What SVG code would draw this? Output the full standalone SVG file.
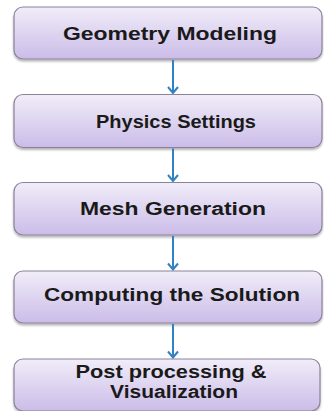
<svg xmlns="http://www.w3.org/2000/svg" width="324" height="411" viewBox="0 0 324 411">
<defs>
<linearGradient id="g" x1="0" y1="0" x2="0" y2="1">
<stop offset="0" stop-color="#f1edf9"/>
<stop offset="1" stop-color="#cbbce8"/>
</linearGradient>
<filter id="sh" x="-5%" y="-10%" width="110%" height="130%">
<feGaussianBlur in="SourceAlpha" stdDeviation="1.2"/>
<feOffset dx="0" dy="1.5"/>
<feComponentTransfer><feFuncA type="linear" slope="0.3"/></feComponentTransfer>
<feMerge><feMergeNode/><feMergeNode in="SourceGraphic"/></feMerge>
</filter>
<marker id="ah" viewBox="0 0 10 12" refX="9" refY="6" markerWidth="10" markerHeight="12" markerUnits="userSpaceOnUse" orient="auto">
<path d="M3,1 L9,6 L3,11" fill="none" stroke="#3182c4" stroke-width="2"/>
</marker>
</defs>
<style>
.box{fill:url(#g);stroke:#8c8199;stroke-width:1.2;filter:url(#sh)}
.t{font-family:"Liberation Sans",Arial,sans-serif;font-weight:bold;font-size:18px;fill:#1a1a1a;text-anchor:middle}
.c{stroke:#3182c4;stroke-width:2;fill:none}
</style>
<rect width="324" height="411" fill="#ffffff"/>
<g id="n1"><rect class="box" x="14" y="7" width="308" height="52" rx="9"/><text class="t" x="170" y="39.5" textLength="214" lengthAdjust="spacingAndGlyphs">Geometry Modeling</text></g>
<g id="n2"><rect class="box" x="14" y="94.5" width="308" height="53" rx="9"/><text class="t" x="176" y="128" textLength="160" lengthAdjust="spacingAndGlyphs">Physics Settings</text></g>
<g id="n3"><rect class="box" x="14" y="182.5" width="308" height="52.5" rx="9"/><text class="t" x="173" y="215" textLength="186" lengthAdjust="spacingAndGlyphs">Mesh Generation</text></g>
<g id="n4"><rect class="box" x="14" y="271" width="308" height="52" rx="9"/><text class="t" x="172" y="301" textLength="256" lengthAdjust="spacingAndGlyphs">Computing the Solution</text></g>
<g id="n5"><rect class="box" x="14" y="359" width="306" height="52" rx="9"/><text class="t" x="171" y="378" textLength="191" lengthAdjust="spacingAndGlyphs">Post processing &amp;</text><text class="t" x="174" y="398" textLength="128" lengthAdjust="spacingAndGlyphs">Visualization</text></g>
<g id="connectors">
<line class="c" x1="173" y1="60" x2="173" y2="93" marker-end="url(#ah)"/>
<line class="c" x1="173" y1="148.5" x2="173" y2="181" marker-end="url(#ah)"/>
<line class="c" x1="173" y1="236" x2="173" y2="269.5" marker-end="url(#ah)"/>
<line class="c" x1="173" y1="324" x2="173" y2="357.5" marker-end="url(#ah)"/>
</g>
</svg>
